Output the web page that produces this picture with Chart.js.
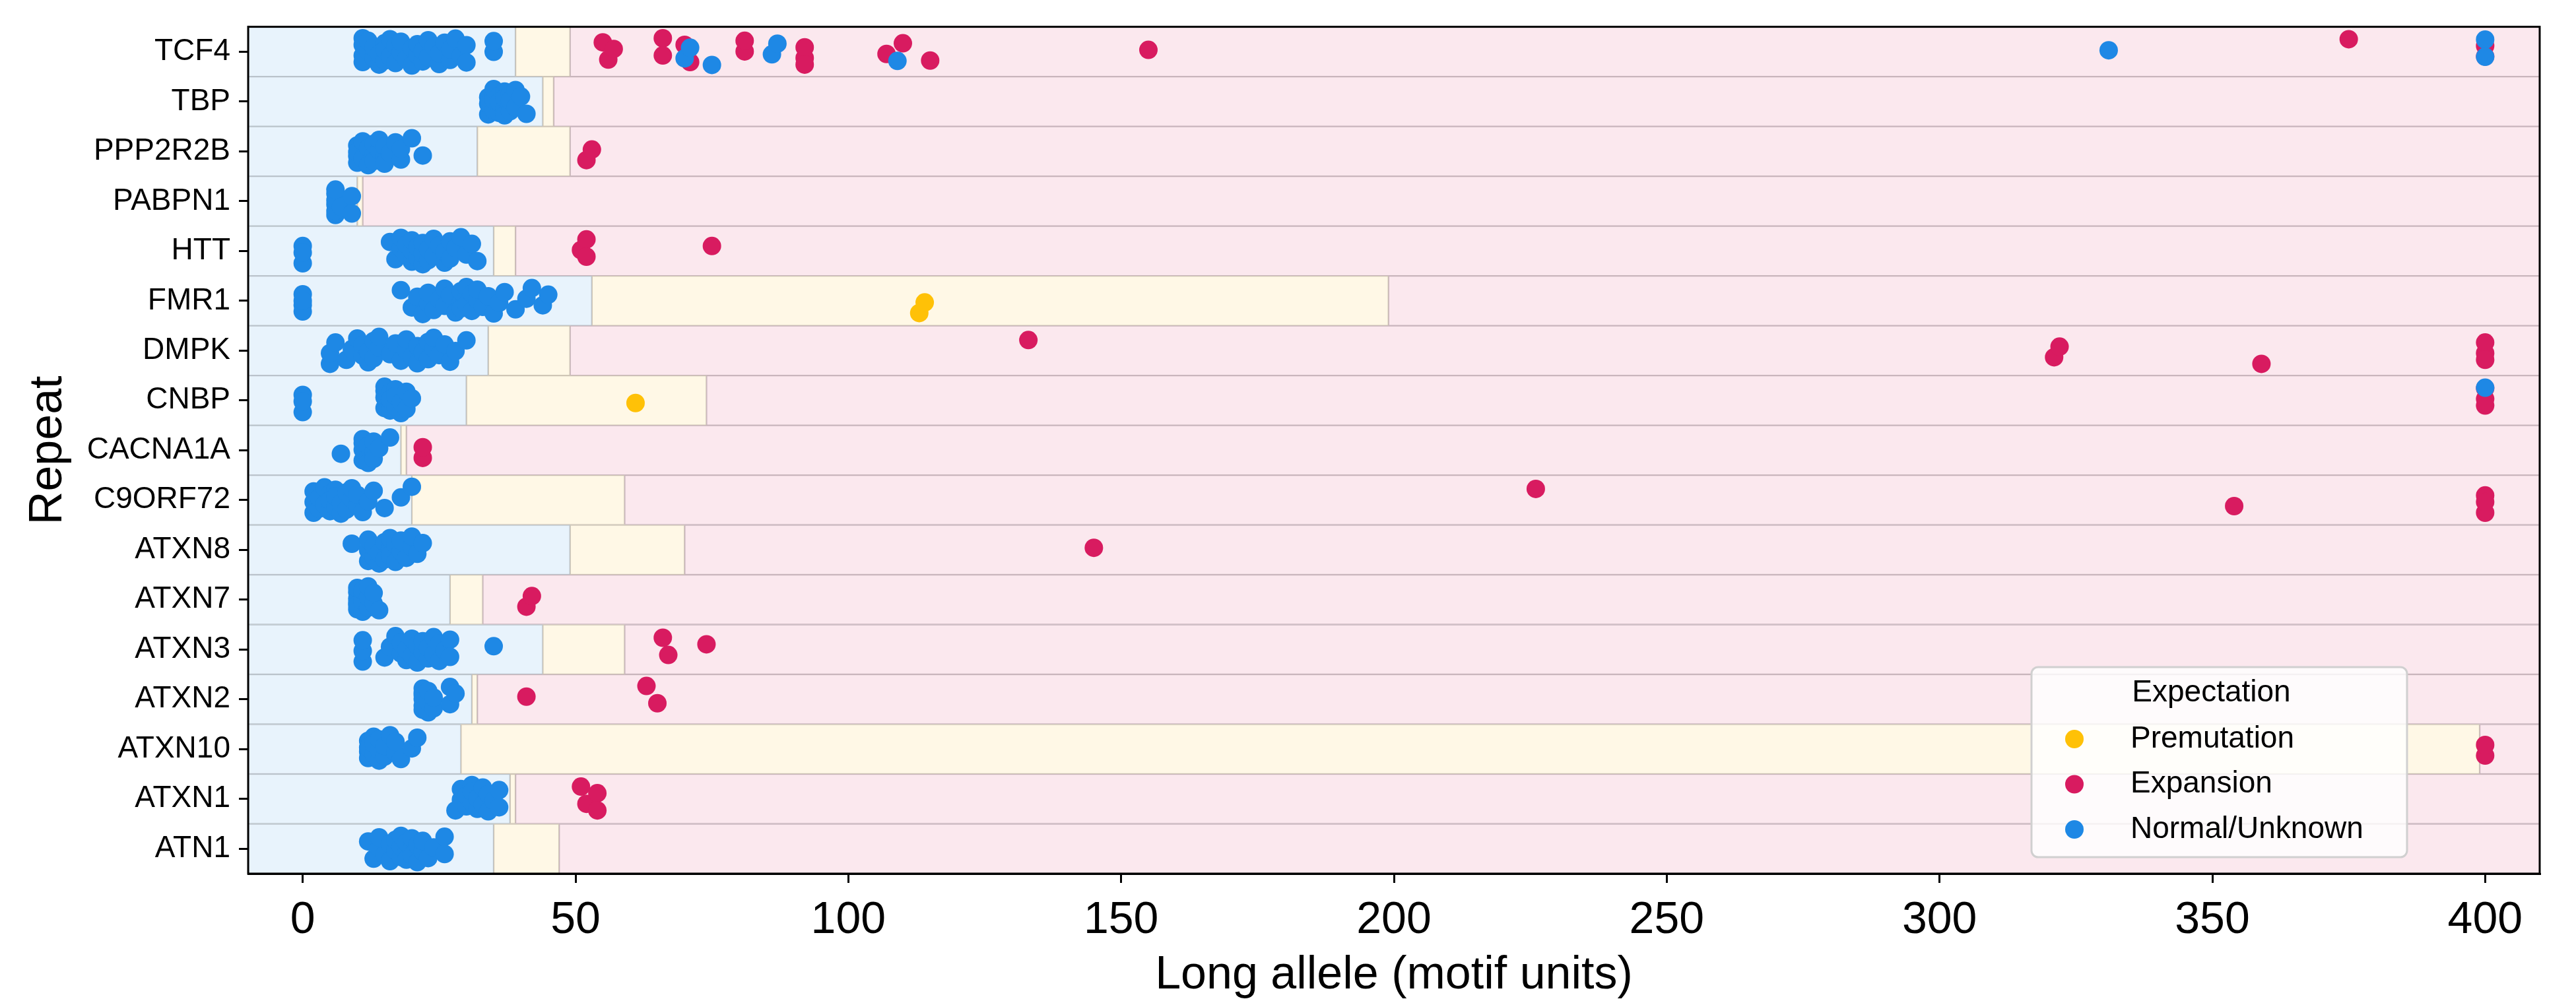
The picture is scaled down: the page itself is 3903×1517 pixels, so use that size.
<!DOCTYPE html>
<html lang="en">
<head>
  <meta charset="UTF-8">
  <title>Long allele by repeat</title>
  <style>
    body { margin:0; background:#fff; }
    #wrap { width:3903px; height:1517px; }
  </style>
</head>
<body>
<div id="wrap"><canvas id="chart" width="3903" height="1517"></canvas></div>
<script src="https://cdn.jsdelivr.net/npm/chart.js"></script>
<script>
// repeats, top to bottom
const categories = ['TCF4','TBP','PPP2R2B','PABPN1','HTT','FMR1','DMPK','CNBP','CACNA1A','C9ORF72','ATXN8','ATXN7','ATXN3','ATXN2','ATXN10','ATXN1','ATN1'];
// end of normal range / end of premutation range (motif units)
const normalUpper = [39,44,32,10,35,53,34,30,18,20,49,27,44,31,29,38,35];
const premutUpper = [49,46,49,11,39,199,49,74,19,59,70,33,59,32,399,39,47];
const xMin = -10, xMax = 410;
const xTicks = [0,50,100,150,200,250,300,350,400];

// long allele per sample, one list per repeat (same order as categories)
const normalValues = [
  [11,11,11,11,12,12,13,13,14,14,15,15,15,16,16,17,17,18,18,19,20,20,21,21,22,22,23,23,24,25,25,26,27,27,28,29,30,30,35,35,70,71,75,86,87,109,331,400,400],
  [34,34,34,35,35,35,35,36,36,36,36,37,37,37,37,38,38,38,38,39,39,40,41],
  [10,10,10,10,11,11,12,12,13,13,13,14,14,15,15,15,16,17,18,18,20,22],
  [6,6,6,6,6,6,7,9,9],
  [0,0,0,16,17,18,18,19,19,20,20,20,21,21,22,22,22,23,23,24,24,25,26,26,27,27,28,29,30,31,32],
  [0,0,0,0,18,20,21,22,23,23,24,25,26,26,27,28,29,29,29,30,30,30,31,31,32,32,33,34,35,36,37,39,41,42,44,45],
  [5,5,6,8,9,10,11,11,12,12,13,13,14,14,16,17,18,19,19,20,21,21,22,23,23,24,24,25,26,27,28,30],
  [0,0,0,15,15,15,15,16,16,16,16,17,17,17,18,18,19,19,20,400],
  [7,11,11,11,11,12,12,12,13,13,13,14,16],
  [2,2,2,3,3,4,4,5,5,5,6,6,6,7,7,8,8,9,9,10,10,11,12,13,15,18,20],
  [9,12,12,12,13,13,14,14,15,15,16,16,16,17,17,18,18,19,20,20,21,22],
  [10,10,10,10,10,10,11,11,11,11,12,12,12,13,13,14],
  [11,11,11,15,16,17,18,18,19,19,20,20,21,21,22,22,23,23,24,24,25,25,26,27,27,35],
  [22,22,22,22,22,22,23,23,23,24,24,27,27,28],
  [12,12,12,12,13,13,13,14,14,14,15,15,16,17,17,18,20,21],
  [28,29,29,30,30,31,31,31,32,32,33,33,34,34,35,36,36],
  [12,13,14,14,15,16,16,17,17,18,18,18,19,19,19,20,20,20,21,21,22,22,23,24,26,26]
];
const expansionValues = [
  [55,56,57,66,66,70,71,81,81,92,92,92,107,110,115,155,375,400,400],
  [],
  [52,53],
  [],
  [51,52,52,75],
  [],
  [133,321,322,359,400,400,400],
  [400,400,400],
  [22,22],
  [226,354,400,400,400],
  [145],
  [41,42],
  [66,67,74],
  [41,63,65],
  [400,400],
  [51,52,54,54],
  []
];
const premutationValues = [[],[],[],[],[],[113,114],[],[61],[],[],[],[],[],[],[],[],[]];

const BLUE = '#1E88E5', RED = '#D81B60', YELLOW = '#FFC107';
const FONT = "'Liberation Sans', Arial, sans-serif";

// strip-plot spread inside a row (fixed sequence, not data)
function jitter(k, c, d) {
  const t = ((k + c * 7 + d * 3) * 0.618034 + 0.31) % 1;
  return (t - 0.5) * 0.56;
}
function stripPoints(lists, d) {
  const pts = [];
  lists.forEach((vals, c) => vals.forEach((v, k) => pts.push({ x: v, y: c + jitter(k, c, d) })));
  return pts;
}

// background bands: normal / premutation / expansion
const bands = [], bandFill = [], bandEdge = [];
categories.forEach((c, i) => {
  bands.push({ y: i, x: [xMin, normalUpper[i]] });
  bandFill.push('#E8F3FC'); bandEdge.push('#BAC3CB');
  bands.push({ y: i, x: [normalUpper[i], premutUpper[i]] });
  bandFill.push('#FFF8E6'); bandEdge.push('#CFC6B6');
  bands.push({ y: i, x: [premutUpper[i], xMax] });
  bandFill.push('#FBE8EE'); bandEdge.push('#C9B5BC');
});

const pointStyle = { pointRadius: 14, pointHoverRadius: 14, pointBorderWidth: 0 };

const frame = {
  id: 'frame',
  afterDatasetsDraw(chart) {
    const { ctx, chartArea: a } = chart;
    ctx.save();
    ctx.strokeStyle = '#000';
    ctx.lineWidth = 3;
    ctx.strokeRect(a.left, a.top, a.right - a.left, a.bottom - a.top);
    ctx.restore();
  }
};

const legendBox = {
  id: 'legendBox',
  afterDraw(chart) {
    const { ctx, chartArea: a } = chart;
    const w = 569, h = 288;
    const x = a.right - 201 - w, y = a.bottom - 25 - h;
    ctx.save();
    ctx.beginPath();
    ctx.roundRect(x, y, w, h, 10);
    ctx.fillStyle = 'rgba(255,255,255,0.8)';
    ctx.fill();
    ctx.strokeStyle = '#D0D0D0';
    ctx.lineWidth = 3;
    ctx.stroke();
    ctx.fillStyle = '#000';
    ctx.font = '46px ' + FONT;
    ctx.textBaseline = 'middle';
    ctx.textAlign = 'center';
    ctx.fillText('Expectation', x + w / 2 - 12, y + 39);
    ctx.textAlign = 'left';
    const items = chart.data.datasets.filter(ds => ds.type === 'scatter');
    items.forEach((ds, i) => {
      const ly = y + 109 + i * 68.5;
      ctx.beginPath();
      ctx.arc(x + 65, ly, 14, 0, Math.PI * 2);
      ctx.fillStyle = ds.backgroundColor;
      ctx.fill();
      ctx.fillStyle = '#000';
      ctx.fillText(ds.label, x + 150, ly);
    });
    ctx.restore();
  }
};

new Chart(document.getElementById('chart'), {
  type: 'scatter',
  data: {
    datasets: [
      { type: 'scatter', label: 'Premutation', data: stripPoints(premutationValues, 0),
        backgroundColor: YELLOW, order: 3, ...pointStyle },
      { type: 'scatter', label: 'Expansion', data: stripPoints(expansionValues, 1),
        backgroundColor: RED, order: 2, ...pointStyle },
      { type: 'scatter', label: 'Normal/Unknown', data: stripPoints(normalValues, 2),
        backgroundColor: BLUE, order: 1, ...pointStyle },
      { type: 'bar', label: 'bands', indexAxis: 'y', data: bands,
        backgroundColor: bandFill, borderColor: bandEdge,
        borderWidth: { top: 1.5, bottom: 1.5, left: 1.5, right: 1.5 }, borderSkipped: false,
        barPercentage: 1, categoryPercentage: 1, order: 100 }
    ]
  },
  options: {
    responsive: false,
    animation: false,
    events: [],
    layout: { padding: { top: 32, right: 55, left: 0, bottom: 0 } },
    plugins: { legend: { display: false }, tooltip: { enabled: false } },
    scales: {
      x: {
        type: 'linear', min: xMin, max: xMax, offset: false,
        afterBuildTicks: s => { s.ticks = xTicks.map(v => ({ value: v })); },
        afterFit: s => { s.height = 193; },
        grid: { display: true, drawOnChartArea: false, drawTicks: true, tickLength: 14, color: '#000', lineWidth: 3, offset: false },
        border: { display: true, color: '#000', width: 3 },
        ticks: { color: '#000', padding: 16, font: { family: FONT, size: 68 }, maxRotation: 0 },
        title: { display: true, text: 'Long allele (motif units)', color: '#000',
                 font: { family: FONT, size: 70, lineHeight: 1.0 }, padding: { top: 0, bottom: 3 } }
      },
      y: {
        type: 'linear', min: -0.5, max: categories.length - 0.5, reverse: true, offset: false,
        afterBuildTicks: s => { s.ticks = categories.map((c, i) => ({ value: i })); },
        afterFit: s => { s.width = 376; },
        grid: { display: true, drawOnChartArea: false, drawTicks: true, tickLength: 14, color: '#000', lineWidth: 3, offset: false },
        border: { display: true, color: '#000', width: 3 },
        ticks: { color: '#000', padding: 13, font: { family: FONT, size: 46 },
                 callback: v => categories[v] },
        title: { display: true, text: 'Repeat', color: '#000',
                 font: { family: FONT, size: 70, lineHeight: 1.2 }, padding: { top: 32, bottom: 0 } }
      }
    }
  },
  plugins: [frame, legendBox]
});
</script>
</body>
</html>
